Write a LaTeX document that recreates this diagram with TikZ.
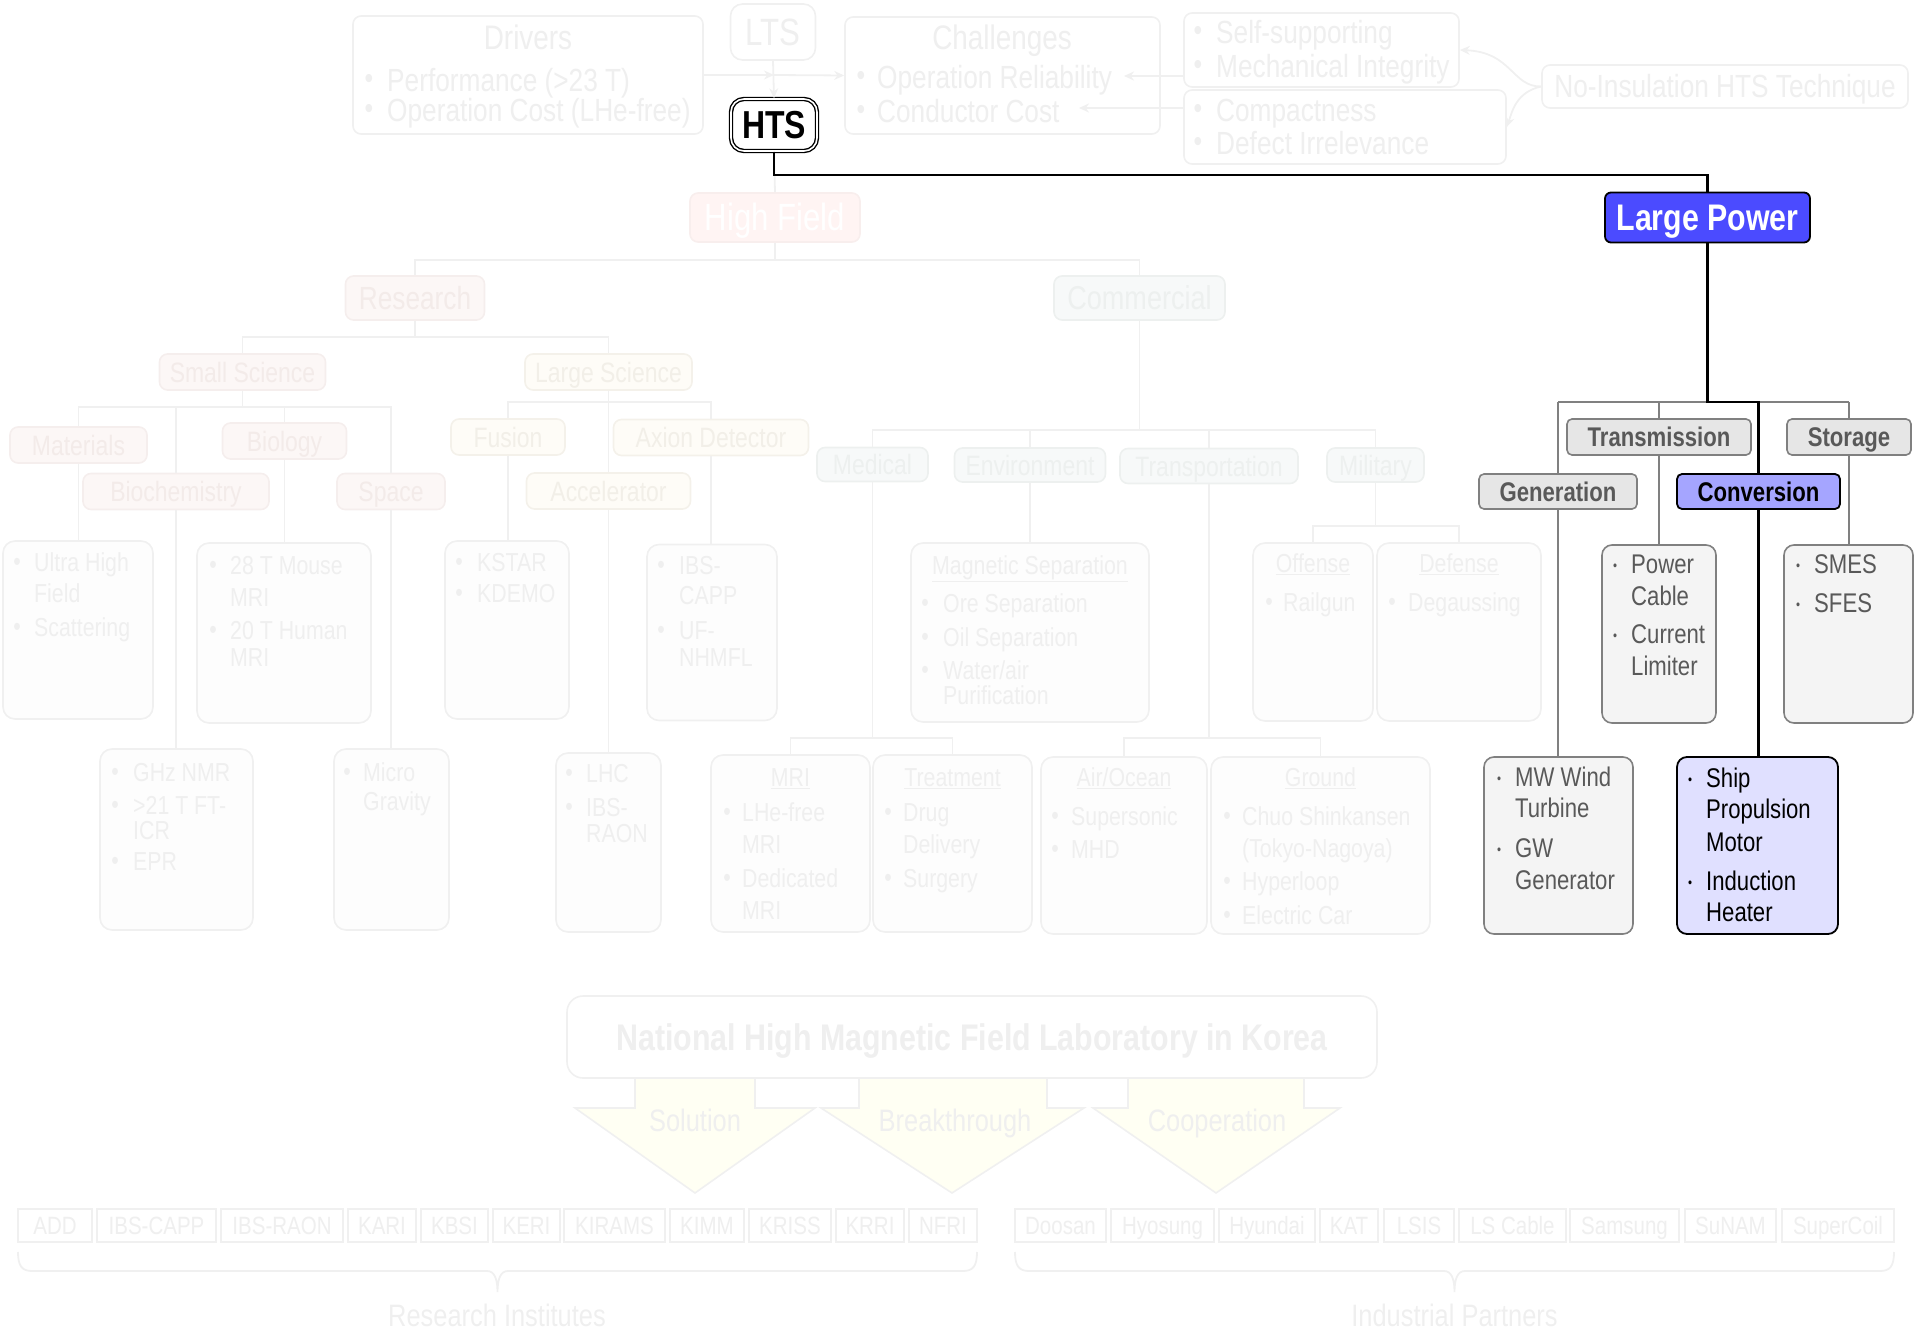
\documentclass[tikz,border=0pt]{standalone}
\usepackage{fontspec}
\setmainfont{Liberation Sans}[FakeStretch=0.82]
\usetikzlibrary{arrows.meta}
\newcommand\fsz[1]{\fontsize{#1pt}{#1pt}\selectfont}
\definecolor{fl}{HTML}{F0F0F0}
\definecolor{ft}{HTML}{EFEFEF}
\definecolor{ff}{HTML}{FDFDFD}
\definecolor{hfF}{HTML}{FFF4F3}
\definecolor{hfD}{HTML}{F8EEED}
\definecolor{hfT}{HTML}{FFFFFF}
\definecolor{rsF}{HTML}{FCF7F6}
\definecolor{rsD}{HTML}{F5EEED}
\definecolor{rsT}{HTML}{F3EBE9}
\definecolor{lsF}{HTML}{FEFCF7}
\definecolor{lsD}{HTML}{F4F1EA}
\definecolor{lsT}{HTML}{F2EFE8}
\definecolor{cmF}{HTML}{F7F9F9}
\definecolor{cmD}{HTML}{EDF0EF}
\definecolor{cmT}{HTML}{EDF0EF}
\definecolor{arF}{HTML}{FFFFF3}
\definecolor{gB}{HTML}{808080}
\definecolor{gT}{HTML}{595959}
\definecolor{gF}{HTML}{E6E6E6}
\definecolor{gL}{HTML}{F4F4F4}
\definecolor{lpB}{HTML}{4B4BFF}
\definecolor{cvB}{HTML}{A5A5FF}
\definecolor{shB}{HTML}{E0E0FF}
\newcounter{lineno}
% bulleted and plain lines of the faded lists
\newcommand\fitem[4]{\stepcounter{lineno}\node[fdot] (d\thelineno) at (#1,#3+2) {•};\node[fi] (t\thelineno) at (#2,#3) {#4};}
\newcommand\fline[3]{\stepcounter{lineno}\node[fi] (t\thelineno) at (#1,#2) {#3};}
\newcommand\fitemL[4]{\stepcounter{lineno}\node[fdotL] (d\thelineno) at (#1,#3+2) {•};\node[fiL] (t\thelineno) at (#2,#3) {#4};}
% bulleted and plain lines of the power lists
\newcommand\ritem[4]{\stepcounter{lineno}\node[rdot] (d\thelineno) at (#1,#3+3) {•};\node[ri] (t\thelineno) at (#2,#3) {#4};}
\newcommand\rline[3]{\stepcounter{lineno}\node[ri] (t\thelineno) at (#1,#2) {#3};}
\newcommand\kitem[4]{\stepcounter{lineno}\node[kdot] (d\thelineno) at (#1,#3+3) {•};\node[ki] (t\thelineno) at (#2,#3) {#4};}
\newcommand\kline[3]{\stepcounter{lineno}\node[ki] (t\thelineno) at (#1,#2) {#3};}
\begin{document}
\begin{tikzpicture}[x=1pt,y=-1pt,
  fbox/.style={draw=fl, line width=1.6pt, rounded corners=8pt, fill=white, inner sep=0},
  fcat/.style={fbox, text=ft, font=\fsz{28}, text height=20pt, text depth=0pt},
  fred/.style={fcat, fill=rsF, draw=rsD, text=rsT},
  fyel/.style={fcat, fill=lsF, draw=lsD, text=lsT},
  fgrn/.style={fcat, fill=cmF, draw=cmD, text=cmT},
  fleaf/.style={fbox, fill=ff, rounded corners=12pt},
  fwire/.style={draw=fl, line width=1.8pt},
  farrow/.style={fwire, -{Stealth[length=10pt,width=9pt]}},
  fi/.style={text=ft, font=\fsz{26}, anchor=west, inner sep=0, text height=18.6pt, text depth=0pt},
  fiL/.style={fi, font=\fsz{32}, text height=22.9pt},
  fdot/.style={text=ft, font=\fsz{26}, inner sep=0},
  fdotL/.style={text=ft, font=\fsz{30}, inner sep=0},
  ftl/.style={text=ft, font=\fsz{26}, inner sep=0, text height=18.6pt, text depth=0pt},
  fttl/.style={text=ft, font=\fsz{34}, inner sep=0, text height=24.3pt, text depth=0pt},
  ibox/.style={draw=fl, line width=1.8pt, fill=white, text=ft, font=\fsz{25}, inner sep=0, minimum height=33, text height=18pt, text depth=0pt},
  blk/.style={draw=fl, line width=1.6pt, fill=arF},
  gwire/.style={draw=gB, line width=1.6pt},
  kpath/.style={draw=black, line width=2.6pt},
  gcat/.style={draw=gB, fill=gF, line width=1.6pt, rounded corners=5pt, text=gT, font=\bfseries\fsz{27}, inner sep=0, text height=19.3pt, text depth=0pt},
  gleaf/.style={draw=gB, fill=gL, line width=1.6pt, rounded corners=10pt, inner sep=0},
  ri/.style={text=gT, font=\fsz{27}, anchor=west, inner sep=0, text height=19.3pt, text depth=0pt},
  rdot/.style={text=gT, font=\fsz{14}, inner sep=0},
  ki/.style={ri, text=black},
  kdot/.style={rdot, text=black},
]
\useasboundingbox (0,0) rectangle (1915,1332);

% ---------- header: drivers, LTS/HTS, challenges ----------
\node[fbox, minimum width=350, minimum height=118] (drv) at (528,75) {};
\node[fttl] (drvT) at (528,37) {Drivers};
\fitemL{369}{387}{80}{Performance (>23 T)}
\fitemL{369}{387}{110}{Operation Cost (LHe-free)}

\node[fbox, rounded corners=12pt, minimum width=85, minimum height=56, text=ft, font=\fsz{38}, text height=27pt, text depth=0pt] (lts) at (773,32) {LTS};
\node[draw=black, double=white, double distance=1.6pt, line width=1.4pt, rounded corners=13pt, fill=white, minimum width=86, minimum height=52, inner sep=0, font=\bfseries\fsz{39}, text height=28pt, text depth=0pt] (hts) at (774,125) {HTS};

\node[fbox, minimum width=315, minimum height=117] (chl) at (1002.5,75.5) {};
\node[fttl] (chlT) at (1002,37) {Challenges};
\fitemL{861}{877}{77}{Operation Reliability}
\fitemL{861}{877}{111}{Conductor Cost}

\node[fbox, minimum width=275, minimum height=74] (sup) at (1321.5,50) {};
\fitemL{1198}{1216}{32}{Self-supporting}
\fitemL{1198}{1216}{66}{Mechanical Integrity}
\node[fbox, minimum width=322, minimum height=74] (cmp) at (1345,127) {};
\fitemL{1198}{1216}{110}{Compactness}
\fitemL{1198}{1216}{143}{Defect Irrelevance}
\node[fbox, minimum width=366, minimum height=43, text=ft, font=\fsz{32}, text height=22.9pt, text depth=0pt] (noi) at (1725,86.5) {No-Insulation HTS Technique};

\coordinate (dj) at (774,75);
\draw[farrow] (drv.east) -- (dj);
\draw[farrow] (dj) -- (chl.west);
\draw[farrow] (lts.south) -- (hts.north);
\coordinate (a1) at (1124,76);
\coordinate (a2) at (1079,108);
\draw[farrow] (sup.west |- a1) -- (a1);
\draw[farrow] (cmp.west |- a2) -- (a2);
\draw[farrow] (noi.west) .. controls (1512,87) and (1512,52) .. (sup.east);
\draw[farrow] (noi.west) .. controls (1516,92) and (1512,112) .. (cmp.east);

% ---------- high field tree ----------
\node[fbox, fill=hfF, draw=hfD, minimum width=170, minimum height=49, text=hfT, font=\fsz{38}, text height=27pt, text depth=0pt] (hf) at (775,217.5) {High Field};
\node[fred, font=\fsz{32}, text height=22.9pt, minimum width=139, minimum height=44] (res) at (415,298) {Research};
\node[fgrn, font=\fsz{33}, text height=23.6pt, minimum width=171, minimum height=44] (com) at (1139.5,298) {Commercial};
\node[fred, minimum width=166, minimum height=36] (ss) at (242.5,372) {Small Science};
\node[fyel, minimum width=167, minimum height=36] (ls) at (608.5,372) {Large Science};
\node[fred, minimum width=137, minimum height=36] (mat) at (78.5,445) {Materials};
\node[fred, minimum width=124, minimum height=36] (bio) at (284.5,441) {Biology};
\node[fred, minimum width=186, minimum height=36] (bch) at (176,491.5) {Biochemistry};
\node[fred, minimum width=108, minimum height=36] (spc) at (391,491.5) {Space};
\node[fyel, minimum width=114, minimum height=36] (fus) at (508,437) {Fusion};
\node[fyel, minimum width=195, minimum height=36] (axn) at (711,437.5) {Axion Detector};
\node[fyel, minimum width=164, minimum height=36] (acc) at (608.5,491) {Accelerator};
\node[fgrn, minimum width=111, minimum height=34] (med) at (872.5,464.5) {Medical};
\node[fgrn, minimum width=151, minimum height=34] (env) at (1030,465) {Environment};
\node[fgrn, minimum width=178, minimum height=35] (trn) at (1209,466) {Transportation};
\node[fgrn, minimum width=97, minimum height=34] (mil) at (1375.5,465) {Military};

% leaf lists
\node[fleaf, minimum width=150, minimum height=178] (uhf) at (78,630) {};
\fitem{17}{34}{562}{Ultra High}
\fline{34}{593}{Field}
\fitem{17}{34}{627}{Scattering}
\node[fleaf, minimum width=174, minimum height=180] (m28) at (284,633) {};
\fitem{213}{230}{565}{28 T Mouse}
\fline{230}{597}{MRI}
\fitem{213}{230}{630}{20 T Human}
\fline{230}{657}{MRI}
\node[fleaf, minimum width=153, minimum height=181] (ghz) at (176.5,839.5) {};
\fitem{115}{133}{772}{GHz NMR}
\fitem{115}{133}{805}{>21 T FT-}
\fline{133}{830}{ICR}
\fitem{115}{133}{861}{EPR}
\node[fleaf, minimum width=115, minimum height=181] (mgr) at (391.5,839.5) {};
\fitem{347}{363}{772}{Micro}
\fline{363}{801}{Gravity}
\node[fleaf, minimum width=124, minimum height=178] (kst) at (507,630) {};
\fitem{459}{477}{562}{KSTAR}
\fitem{459}{477}{593}{KDEMO}
\node[fleaf, minimum width=130, minimum height=176] (ibs) at (712,632.5) {};
\fitem{661}{679}{565}{IBS-}
\fline{679}{595}{CAPP}
\fitem{661}{679}{630}{UF-}
\fline{679}{657}{NHMFL}
\node[fleaf, minimum width=105, minimum height=179] (lhc) at (608.5,842.5) {};
\fitem{569}{586}{773}{LHC}
\fitem{569}{586}{807}{IBS-}
\fline{586}{833}{RAON}
\node[fleaf, minimum width=238, minimum height=179] (msp) at (1030,632.5) {};
\node[ftl] (mspT) at (1030,565) {\underline{Magnetic Separation}};
\fitem{925}{943}{603}{Ore Separation}
\fitem{925}{943}{637}{Oil Separation}
\fitem{925}{943}{670}{Water/air}
\fline{943}{695}{Purification}
\node[fleaf, minimum width=120, minimum height=178] (off) at (1313,632) {};
\node[ftl] (offT) at (1313,563) {\underline{Offense}};
\fitem{1269}{1283}{602}{Railgun}
\node[fleaf, minimum width=164, minimum height=178] (def) at (1459,632) {};
\node[ftl] (defT) at (1459,563) {\underline{Defense}};
\fitem{1392}{1408}{602}{Degaussing}
\node[fleaf, minimum width=159, minimum height=177] (mri) at (790.5,843.5) {};
\node[ftl] (mriT) at (790.5,777) {\underline{MRI}};
\fitem{727}{742}{812}{LHe-free}
\fline{742}{844}{MRI}
\fitem{727}{742}{878}{Dedicated}
\fline{742}{910}{MRI}
\node[fleaf, minimum width=159, minimum height=177] (trt) at (952.5,843.5) {};
\node[ftl] (trtT) at (952.5,777) {\underline{Treatment}};
\fitem{888}{903}{812}{Drug}
\fline{903}{844}{Delivery}
\fitem{888}{903}{878}{Surgery}
\node[fleaf, minimum width=166, minimum height=177] (air) at (1124,845.5) {};
\node[ftl] (airT) at (1124,777) {\underline{Air/Ocean}};
\fitem{1055}{1071}{816}{Supersonic}
\fitem{1055}{1071}{849}{MHD}
\node[fleaf, minimum width=219, minimum height=177] (gnd) at (1320.5,845.5) {};
\node[ftl] (gndT) at (1320.5,777) {\underline{Ground}};
\fitem{1227}{1242}{816}{Chuo Shinkansen}
\fline{1242}{848}{(Tokyo-Nagoya)}
\fitem{1227}{1242}{881}{Hyperloop}
\fitem{1227}{1242}{915}{Electric Car}

% faded connectors
\draw[fwire] (hts.south) -- (hf.north);
\coordinate (hfb) at (775,260);
\draw[fwire] (hf.south) -- (hfb);
\draw[fwire] (hfb) -| (res.north);
\draw[fwire] (hfb) -| (com.north);
\coordinate (rsb) at (415,337);
\draw[fwire] (res.south) -- (rsb);
\draw[fwire] (rsb) -| (ss.north);
\draw[fwire] (rsb) -| (ls.north);
\coordinate (ssb) at (242.5,407);
\draw[fwire] (ss.south) -- (ssb);
\draw[fwire] (ssb) -| (mat.north);
\draw[fwire] (ssb) -| (bio.north);
\draw[fwire] (ssb) -| (bch.north);
\draw[fwire] (ssb) -| (spc.north);
\draw[fwire] (mat.south) -- (mat.south |- uhf.north);
\draw[fwire] (bio.south) -- (bio.south |- m28.north);
\draw[fwire] (bch.south) -- (bch.south |- ghz.north);
\draw[fwire] (spc.south) -- (spc.south |- mgr.north);
\coordinate (lsb) at (608.5,402);
\draw[fwire] (ls.south) -- (lsb);
\draw[fwire] (lsb) -| (fus.north);
\draw[fwire] (lsb) -- (acc.north);
\draw[fwire] (lsb) -| (axn.north);
\draw[fwire] (fus.south) -- (fus.south |- kst.north);
\draw[fwire] (axn.south) -- (axn.south |- ibs.north);
\draw[fwire] (acc.south) -- (acc.south |- lhc.north);
\coordinate (cmb) at (1139.5,430);
\draw[fwire] (com.south) -- (cmb);
\draw[fwire] (cmb) -| (med.north);
\draw[fwire] (cmb) -| (env.north);
\draw[fwire] (cmb) -| (trn.north);
\draw[fwire] (cmb) -| (mil.north);
\draw[fwire] (env.south) -- (env.south |- msp.north);
\coordinate (mlb) at (1375.5,526);
\draw[fwire] (mil.south) -- (mlb);
\draw[fwire] (mlb) -| (off.north);
\draw[fwire] (mlb) -| (def.north);
\coordinate (mdb) at (872.5,738);
\draw[fwire] (med.south) -- (mdb);
\draw[fwire] (mdb) -| (mri.north);
\draw[fwire] (mdb) -| (trt.north);
\coordinate (tnb) at (1209,738);
\draw[fwire] (trn.south) -- (tnb);
\draw[fwire] (tnb) -| (air.north);
\draw[fwire] (tnb) -| (gnd.north);

% ---------- national laboratory and partners ----------
\draw[blk] (635,1078) -- (635,1108) -- (575,1108) -- (695,1193) -- (815,1108) -- (755,1108) -- (755,1078) -- cycle;
\draw[blk] (859,1078) -- (859,1108) -- (821,1108) -- (952,1193) -- (1084,1108) -- (1047,1108) -- (1047,1078) -- cycle;
\draw[blk] (1128,1078) -- (1128,1108) -- (1093,1108) -- (1216,1193) -- (1340,1108) -- (1304,1108) -- (1304,1078) -- cycle;
\node[fbox, rounded corners=16pt, minimum width=810, minimum height=82, text=ft, font=\bfseries\fsz{37}, text height=26.5pt, text depth=0pt] (nat) at (972,1037) {National High Magnetic Field Laboratory in Korea};
\node[text=ft, font=\fsz{31}, inner sep=0, text height=22.2pt, text depth=0pt] (sol) at (695,1120) {Solution};
\node[text=ft, font=\fsz{31}, inner sep=0, text height=22.2pt, text depth=0pt] (brk) at (955,1120) {Breakthrough};
\node[text=ft, font=\fsz{31}, inner sep=0, text height=22.2pt, text depth=0pt] (coo) at (1217,1120) {Cooperation};

\node[ibox, minimum width=74] (i1) at (55,1225.5) {ADD};
\node[ibox, minimum width=119] (i2) at (156.5,1225.5) {IBS-CAPP};
\node[ibox, minimum width=122] (i3) at (282,1225.5) {IBS-RAON};
\node[ibox, minimum width=68] (i4) at (382,1225.5) {KARI};
\node[ibox, minimum width=67] (i5) at (454.5,1225.5) {KBSI};
\node[ibox, minimum width=67] (i6) at (526.5,1225.5) {KERI};
\node[ibox, minimum width=101] (i7) at (614.5,1225.5) {KIRAMS};
\node[ibox, minimum width=74] (i8) at (707,1225.5) {KIMM};
\node[ibox, minimum width=82] (i9) at (790,1225.5) {KRISS};
\node[ibox, minimum width=68] (i10) at (870,1225.5) {KRRI};
\node[ibox, minimum width=68] (i11) at (943,1225.5) {NFRI};
\node[ibox, minimum width=91] (p1) at (1060.5,1225.5) {Doosan};
\node[ibox, minimum width=103] (p2) at (1162.5,1225.5) {Hyosung};
\node[ibox, minimum width=96] (p3) at (1267,1225.5) {Hyundai};
\node[ibox, minimum width=58] (p4) at (1349,1225.5) {KAT};
\node[ibox, minimum width=70] (p5) at (1419,1225.5) {LSIS};
\node[ibox, minimum width=107] (p6) at (1512.5,1225.5) {LS Cable};
\node[ibox, minimum width=109] (p7) at (1624.5,1225.5) {Samsung};
\node[ibox, minimum width=91] (p8) at (1730.5,1225.5) {SuNAM};
\node[ibox, minimum width=112] (p9) at (1838,1225.5) {SuperCoil};

% braces under the two partner rows
\draw[fwire] (18,1252) .. controls (18,1266) and (22,1271) .. (32,1271) -- (487,1271) .. controls (494,1271) and (497.5,1278) .. (497.5,1292) .. controls (497.5,1278) and (501,1271) .. (508,1271) -- (963,1271) .. controls (973,1271) and (977,1266) .. (977,1252);
\draw[fwire] (1015,1252) .. controls (1015,1266) and (1019,1271) .. (1029,1271) -- (1444,1271) .. controls (1451,1271) and (1454.5,1278) .. (1454.5,1292) .. controls (1454.5,1278) and (1458,1271) .. (1465,1271) -- (1880,1271) .. controls (1890,1271) and (1894,1266) .. (1894,1252);
\node[text=ft, font=\fsz{31}, inner sep=0, text height=22.2pt, text depth=0pt] (rin) at (497,1315) {Research Institutes};
\node[text=ft, font=\fsz{31}, inner sep=0, text height=22.2pt, text depth=0pt] (ipa) at (1454.5,1315) {Industrial Partners};

% ---------- large power tree ----------
\node[draw=black, fill=lpB, line width=1.8pt, rounded corners=6pt, text=white, font=\bfseries\fsz{37}, inner sep=0, text height=26.5pt, text depth=0pt, minimum width=205, minimum height=50] (lp) at (1707.5,217.5) {Large Power};
\node[gcat, minimum width=158, minimum height=35] (gen) at (1558,491.5) {Generation};
\node[gcat, minimum width=184, minimum height=36] (tra) at (1659,437) {Transmission};
\node[gcat, draw=black, fill=cvB, text=black, line width=1.8pt, minimum width=163, minimum height=35] (con) at (1758.5,491.5) {Conversion};
\node[gcat, minimum width=124, minimum height=36] (sto) at (1849,437) {Storage};

\node[gleaf, minimum width=114, minimum height=178] (pwc) at (1659,634) {};
\ritem{1615}{1631}{564}{Power}
\rline{1631}{596}{Cable}
\ritem{1615}{1631}{634}{Current}
\rline{1631}{666}{Limiter}
\node[gleaf, minimum width=129, minimum height=178] (sme) at (1848.5,634) {};
\ritem{1798}{1814}{564}{SMES}
\ritem{1798}{1814}{603}{SFES}
\node[gleaf, minimum width=149, minimum height=177] (mww) at (1558.5,845.5) {};
\ritem{1499}{1515}{777}{MW Wind}
\rline{1515}{808}{Turbine}
\ritem{1499}{1515}{848}{GW}
\rline{1515}{880}{Generator}
\node[gleaf, draw=black, fill=shB, line width=1.8pt, minimum width=161, minimum height=177] (shp) at (1757.5,845.5) {};
\kitem{1690}{1706}{778}{Ship}
\kline{1706}{809}{Propulsion}
\kline{1706}{842}{Motor}
\kitem{1690}{1706}{881}{Induction}
\kline{1706}{912}{Heater}

\coordinate (lpb) at (1707.5,402);
\draw[gwire] (gen.north |- lpb) -- (sto.north |- lpb);
\draw[gwire] (gen.north |- lpb) -- (gen.north);
\draw[gwire] (tra.north |- lpb) -- (tra.north);
\draw[gwire] (sto.north |- lpb) -- (sto.north);
\draw[gwire] (gen.south) -- (gen.south |- mww.north);
\draw[gwire] (tra.south) -- (tra.south |- pwc.north);
\draw[gwire] (sto.south) -- (sto.south |- sme.north);

% ---------- highlighted path from HTS ----------
\coordinate (hb) at (774,175);
\draw[kpath] (hts.south) -- (hb) -| (lp.north);
\draw[kpath] (lp.south) -- (lpb) -| (con.north);
\draw[kpath] (con.south) -- (con.south |- shp.north);
\end{tikzpicture}
\end{document}
